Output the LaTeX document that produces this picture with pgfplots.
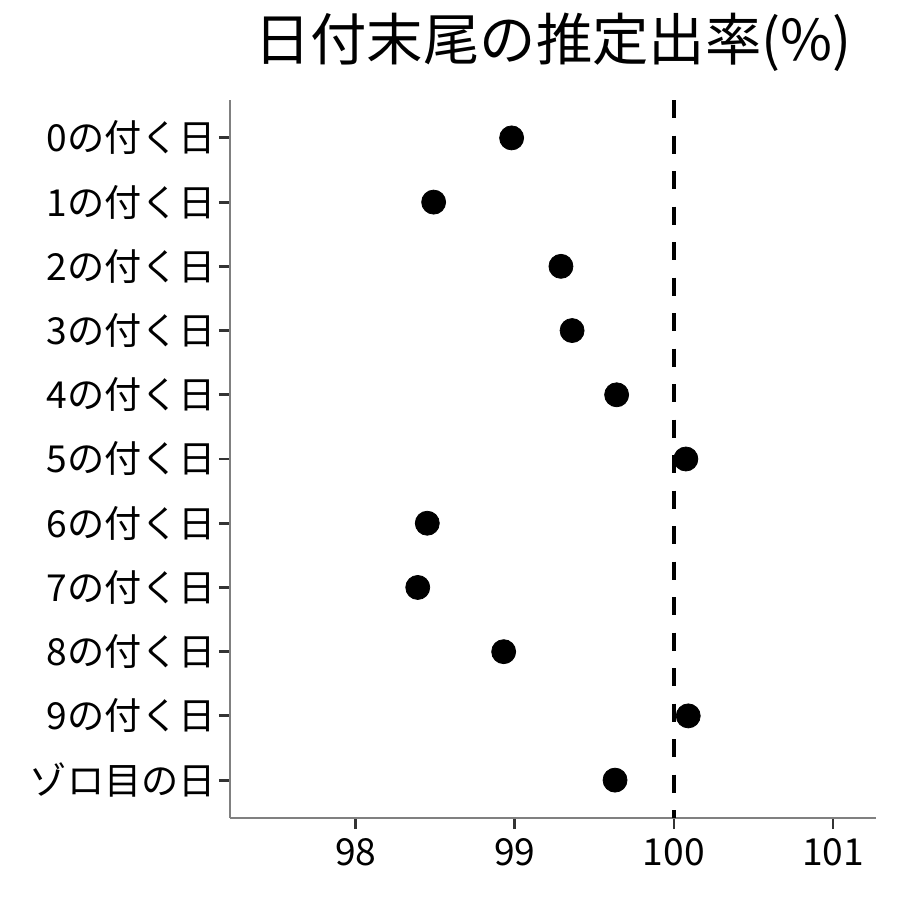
\documentclass[border=0pt]{standalone}
\usepackage{fontspec}
\setmainfont{Noto Sans CJK JP}
\usepackage{pgfplots}
\pgfplotsset{compat=1.18}

\begin{document}
\begin{tikzpicture}
\useasboundingbox (-115pt,-41pt) rectangle (335pt,409pt);
\begin{axis}[
    at={(0,0)}, anchor=south west,
    scale only axis,
    width=323pt, height=359pt,
    xmin=97.21, xmax=101.27,
    ymin=-0.59, ymax=10.59,
    y dir=reverse,
    axis x line*=bottom,
    axis y line*=left,
    axis line style={color=black!50, line width=0.6pt},
    xtick={98,99,100,101},
    ytick={0,...,10},
    yticklabels={0の付く日,1の付く日,2の付く日,3の付く日,4の付く日,5の付く日,6の付く日,7の付く日,8の付く日,9の付く日,ゾロ目の日},
    tick align=outside,
    major tick length=5.5pt,
    tick style={color=black!80, line width=1.4pt},
    tick label style={font=\fontsize{18.6}{21}\selectfont, color=black},
    /pgf/number format/assume math mode=true,
    xticklabel style={yshift=-1pt},
    yticklabel style={xshift=2pt},
    title={日付末尾の推定出率(\%)},
    title style={font=\fontsize{28.2}{31}\selectfont, at={(axis description cs:0.5,1)}, anchor=base, yshift=14pt},
    clip=false,
]
\addplot[black, only marks, mark=*, mark size=6pt] coordinates {
    (98.98,0) (98.49,1) (99.29,2) (99.36,3) (99.64,4) (100.075,5)
    (98.45,6) (98.39,7) (98.93,8) (100.09,9) (99.63,10)
};
\draw[black, line width=2pt, dash pattern=on 9pt off 8.75pt]
    (axis cs:100,-0.59) -- (axis cs:100,10.59);
\end{axis}
\end{tikzpicture}
\end{document}
